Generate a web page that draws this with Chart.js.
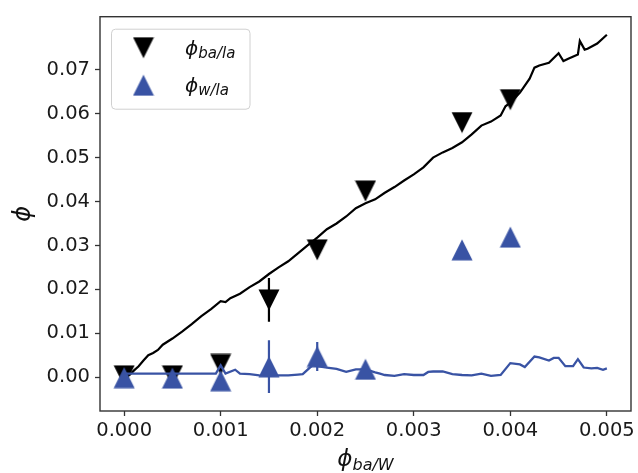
<!DOCTYPE html>
<html><head><meta charset="utf-8">
<script src="https://cdn.jsdelivr.net/npm/chart.js@4.4.0/dist/chart.umd.min.js"></script>
<style>html,body{margin:0;padding:0;background:#fff;}#wrap{width:638px;height:473px;}</style>
</head><body><div id="wrap"><canvas id="c" width="638" height="473"></canvas></div>
<script>
// ---- data ----
const markerX = [0, 0.0005, 0.001, 0.0015, 0.002, 0.0025, 0.0035, 0.004];
const baLaY   = [0.0003, 0.0003, 0.0029, 0.0176, 0.0290, 0.0424, 0.0580, 0.0632];
const baLaErr = [0, 0, 0, 0.0050, 0, 0, 0, 0];
const wLaY    = [-0.0001, -0.0002, -0.0008, 0.0024, 0.0047, 0.0018, 0.0290, 0.0319];
const wLaErr  = [0, 0, 0, 0.0060, 0.0033, 0, 0, 0];

const baLaLineX = [0.00005,0.0001,0.00015,0.0002,0.00025,0.0003,0.00035,0.0004,0.0005,0.0006,0.0007,0.0008,0.0009,0.001,0.00105,0.0011,0.0012,0.0013,0.0014,0.0015,0.0016,0.0017,0.0018,0.0019,0.002,0.0021,0.0022,0.0023,0.0024,0.0025,0.0026,0.0027,0.0028,0.0029,0.003,0.0031,0.0032,0.0033,0.0034,0.0035,0.0036,0.0037,0.0038,0.0039,0.00395,0.004,0.0041,0.0042,0.00425,0.0043,0.0044,0.0045,0.00455,0.0046,0.0047,0.00472,0.00477,0.0048,0.0049,0.005];
const baLaLineY = [0.0004,0.0015,0.0025,0.0038,0.0050,0.0055,0.0062,0.0074,0.0088,0.0104,0.0121,0.0139,0.0155,0.0173,0.0171,0.0180,0.0190,0.0205,0.0218,0.0235,0.0250,0.0264,0.0282,0.0300,0.0318,0.0337,0.0350,0.0366,0.0385,0.0396,0.0405,0.0420,0.0433,0.0448,0.0462,0.0478,0.0500,0.0512,0.0522,0.0535,0.0553,0.0573,0.0582,0.0596,0.0617,0.0625,0.0648,0.0680,0.0705,0.0710,0.0716,0.0738,0.0720,0.0725,0.0735,0.0766,0.0746,0.0748,0.0760,0.0780];

const wLaLineX = [0,0.00095,0.001,0.00105,0.00115,0.0012,0.0013,0.0014,0.0015,0.0016,0.0017,0.0018,0.00185,0.00195,0.002,0.0021,0.0022,0.0023,0.0024,0.0025,0.0026,0.00265,0.0027,0.0028,0.0029,0.003,0.0031,0.00315,0.0032,0.0033,0.0034,0.0035,0.0036,0.0037,0.0038,0.0039,0.004,0.0041,0.00415,0.00425,0.0043,0.0044,0.00445,0.0045,0.00457,0.00465,0.0047,0.00476,0.00484,0.0049,0.00496,0.005];
const wLaLineY = [0.0008,0.0008,0.0027,0.0008,0.0017,0.0008,0.0007,0.0004,0.0003,0.0004,0.0004,0.0006,0.0007,0.0027,0.0025,0.0022,0.0019,0.0012,0.0018,0.0018,0.0011,0.0008,0.0005,0.0003,0.0007,0.0005,0.0005,0.0012,0.0013,0.0013,0.0007,0.0005,0.0004,0.0008,0.0003,0.0005,0.0032,0.0029,0.0023,0.0047,0.0045,0.0038,0.0044,0.0044,0.0025,0.0025,0.0041,0.0022,0.0020,0.0021,0.0017,0.0020];

const xTicks = [0, 0.001, 0.002, 0.003, 0.004, 0.005];
const yTicks = [0, 0.01, 0.02, 0.03, 0.04, 0.05, 0.06, 0.07];
const legendMain = ['ϕ', 'ϕ'];
const legendSub = ['ba/la', 'w/la'];
const xTitleMain = 'ϕ';
const xTitleSub = 'ba/W';
const yTitle = 'ϕ';

// ---- styles ----
const BLUE = '#3953a4';
const BLACK = '#000000';
const FONT = '"DejaVu Sans", sans-serif';

function triangle(color, down, size) {
  const c = document.createElement('canvas');
  c.width = size; c.height = size;
  const g = c.getContext('2d');
  g.fillStyle = color;
  g.beginPath();
  if (down) { g.moveTo(0.5, 0.5); g.lineTo(size - 0.5, 0.5); g.lineTo(size / 2, size - 0.5); }
  else { g.moveTo(size / 2, 0.5); g.lineTo(size - 0.5, size - 0.5); g.lineTo(0.5, size - 0.5); }
  g.closePath(); g.fill();
  return c;
}
const upTri = triangle(BLUE, false, 22);
const downTri = triangle(BLACK, true, 22);

function errDatasets(ys, errs, color, order) {
  const out = [];
  markerX.forEach((x, i) => {
    if (errs[i] > 0) out.push({
      label: 'err', data: [{x, y: ys[i] - errs[i]}, {x, y: ys[i] + errs[i]}],
      showLine: true, borderColor: color, borderWidth: 2.2, pointRadius: 0, order
    });
  });
  return out;
}

const datasets = [
  {label: 'ϕw/la', data: markerX.map((x, i) => ({x, y: wLaY[i]})), pointStyle: upTri, showLine: false, order: 0},
  ...errDatasets(wLaY, wLaErr, BLUE, 1),
  {label: 'wline', data: wLaLineX.map((x, i) => ({x, y: wLaLineY[i]})), showLine: true, borderColor: BLUE, borderWidth: 2.3, pointRadius: 0, order: 2},
  {label: 'ϕba/la', data: markerX.map((x, i) => ({x, y: baLaY[i]})), pointStyle: downTri, showLine: false, order: 3},
  ...errDatasets(baLaY, baLaErr, BLACK, 4),
  {label: 'baline', data: baLaLineX.map((x, i) => ({x, y: baLaLineY[i]})), showLine: true, borderColor: BLACK, borderWidth: 2.2, pointRadius: 0, order: 5},
];

const decor = {
  id: 'decor',
  afterDraw(chart) {
    const ctx = chart.ctx, a = chart.chartArea;
    ctx.save();
    // frame
    ctx.strokeStyle = '#333'; ctx.lineWidth = 1.4;
    ctx.strokeRect(a.left, a.top, a.right - a.left, a.bottom - a.top);
    // x title with subscript
    ctx.fillStyle = '#111'; ctx.textBaseline = 'alphabetic'; ctx.textAlign = 'left';
    ctx.font = 'italic 23px ' + FONT; const w1 = ctx.measureText(xTitleMain).width;
    ctx.font = 'italic 16px ' + FONT; const w2 = ctx.measureText(xTitleSub).width;
    let x0 = (a.left + a.right) / 2 - (w1 + w2) / 2;
    ctx.font = 'italic 23px ' + FONT; ctx.fillText(xTitleMain, x0, 466);
    ctx.font = 'italic 16px ' + FONT; ctx.fillText(xTitleSub, x0 + w1, 470);
    // legend
    const lx = a.left + 11.5, ly = a.top + 12.5, lw = 138.5, lh = 80;
    ctx.beginPath(); ctx.roundRect(lx, ly, lw, lh, 4);
    ctx.fillStyle = 'rgba(255,255,255,0.8)'; ctx.fill();
    ctx.strokeStyle = '#d0d0d0'; ctx.lineWidth = 1; ctx.stroke();
    const rows = [{img: downTri, cy: a.top + 31}, {img: upTri, cy: a.top + 68.5}];
    rows.forEach((r, i) => {
      ctx.drawImage(r.img, a.left + 43.5 - 11, r.cy - 11);
      ctx.fillStyle = '#111';
      ctx.font = 'italic 20px ' + FONT;
      const mw = ctx.measureText(legendMain[i]).width;
      ctx.fillText(legendMain[i], a.left + 85, r.cy + 7);
      ctx.font = 'italic 15px ' + FONT;
      ctx.fillText(legendSub[i], a.left + 85 + mw, r.cy + 10);
    });
    ctx.restore();
  }
};

const tickFont = {family: FONT, size: 19.5};
new Chart(document.getElementById('c'), {
  type: 'scatter',
  data: {datasets},
  options: {
    responsive: false, animation: false, devicePixelRatio: 1,
    layout: {padding: {top: 14, right: 4, left: 0, bottom: 0}},
    plugins: {legend: {display: false}, tooltip: {enabled: false}},
    scales: {
      x: {
        type: 'linear', min: -0.00025, max: 0.00525,
        afterBuildTicks: s => { s.ticks = xTicks.map(v => ({value: v})); },
        afterFit: s => { s.height = 62; },
        ticks: {callback: v => v.toFixed(3), font: tickFont, color: '#1a1a1a', padding: 3, maxRotation: 0, autoSkip: false},
        grid: {display: true, drawOnChartArea: false, drawTicks: true, tickLength: 5, tickColor: '#333', tickWidth: 1.3},
        border: {display: false}
      },
      y: {
        type: 'linear', min: -0.0077, max: 0.0821,
        afterBuildTicks: s => { s.ticks = yTicks.map(v => ({value: v})); },
        afterFit: s => { s.width = 100; },
        ticks: {callback: v => v.toFixed(2), font: tickFont, color: '#1a1a1a', padding: 5, autoSkip: false},
        grid: {display: true, drawOnChartArea: false, drawTicks: true, tickLength: 5, tickColor: '#333', tickWidth: 1.3},
        border: {display: false},
        title: {display: true, text: yTitle, color: '#111', font: {family: FONT, size: 24, style: 'italic'}, padding: {top: 9, bottom: 0}}
      }
    }
  },
  plugins: [decor]
});
</script>
</body></html>
